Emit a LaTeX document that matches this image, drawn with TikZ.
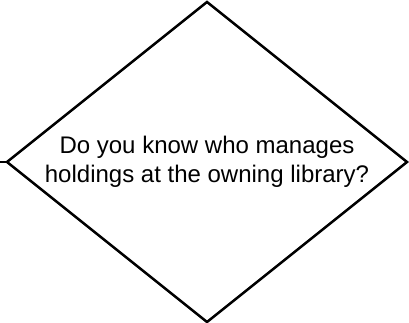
\documentclass[tikz,border=0pt]{standalone}
\usepackage{fontspec}
\setmainfont{Liberation Sans}
\usepackage{tikz}
\usetikzlibrary{shapes.geometric, positioning}

\begin{document}
\begin{tikzpicture}[
    x=1pt, y=1pt,
    decision/.style={diamond, draw, line width=2.5pt, aspect=1.25,
        minimum width=400pt, minimum height=320pt, inner sep=0pt, outer sep=0pt,
        align=center, font=\fontsize{24}{29}\selectfont},
    link/.style={draw, line width=2.5pt}
]

% page frame
\useasboundingbox (0,0) rectangle (409,323);

% Decision
\node[decision] (know) at (207,161) {Do you know who manages\\holdings at the owning library?};

% incoming line from the left
\coordinate (in) at (-2,161);
\draw[link] (in) -- (know.west);

\end{tikzpicture}
\end{document}
